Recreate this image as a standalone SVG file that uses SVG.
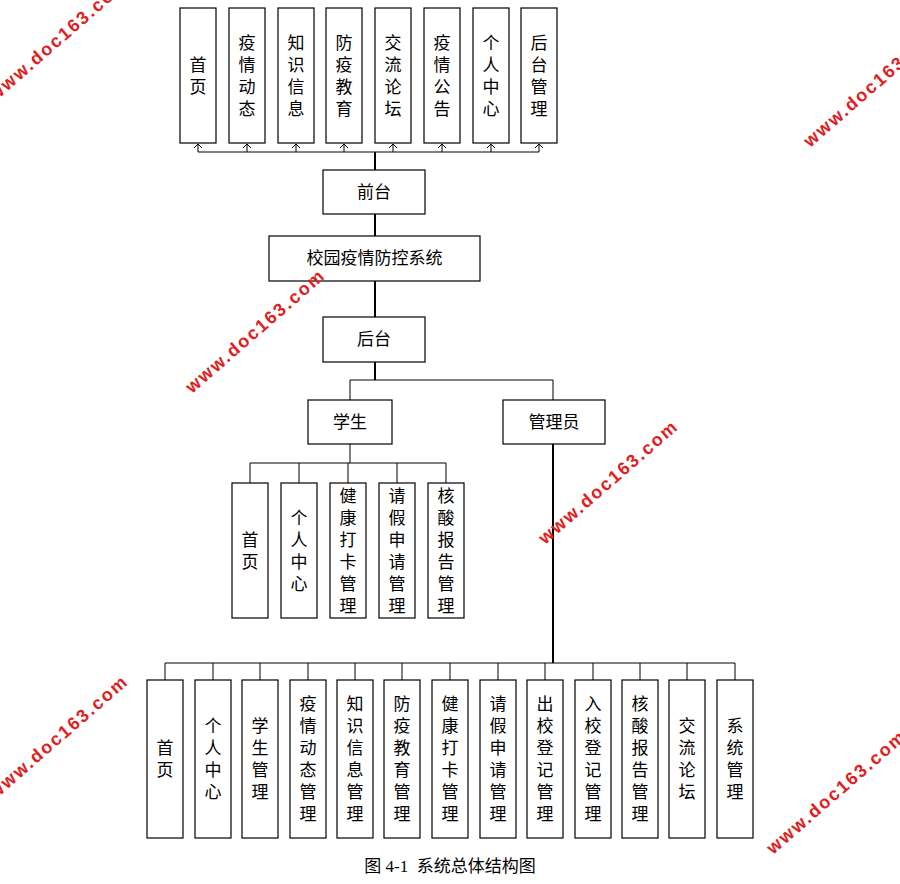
<svg xmlns="http://www.w3.org/2000/svg" width="900" height="884" viewBox="0 0 900 884">
<style>
.b{fill:#fff;stroke:#000;stroke-width:1.2}
.t{font-family:"Noto Sans CJK SC","Liberation Serif",serif;font-size:17px;text-anchor:middle;fill:#000}
.l{fill:none;stroke:#000;stroke-width:1}
.k{fill:none;stroke:#000;stroke-width:2}
.w{font-family:"Liberation Sans",sans-serif;font-size:18px;font-weight:bold;fill:#e02020;letter-spacing:2px}
</style>
<defs><marker id="a" markerWidth="10" markerHeight="10" refX="5" refY="5" orient="auto" markerUnits="userSpaceOnUse"><path d="M1,1 L5,5 L1,9" fill="none" stroke="#000" stroke-width="1"/></marker></defs>
<rect width="900" height="884" fill="#fff"/>
<g id="connectors">
<path class="l" d="M198,152 H539"/>
<path class="k" d="M375,152 V170 M375,214 V236 M375,281 V317 M375,362 V380"/>
<g marker-end="url(#a)">
<path class="l" d="M198,152 V144"/><path class="l" d="M247,152 V144"/><path class="l" d="M296,152 V144"/><path class="l" d="M344,152 V144"/><path class="l" d="M393,152 V144"/><path class="l" d="M442,152 V144"/><path class="l" d="M491,152 V144"/><path class="l" d="M539,152 V144"/>
</g>
<path class="l" d="M350,380 H553 M350,380 V400 M553,380 V400"/>
<path class="l" d="M350,444 V463 M250,463 H446 M250,463 V483 M299,463 V483 M348,463 V483 M397,463 V483 M446,463 V483"/>
<path class="k" d="M553,444 V663"/>
<path class="l" d="M165,663 H735 M165,663 V680 M213,663 V680 M260,663 V680 M308,663 V680 M355,663 V680 M402,663 V680 M450,663 V680 M498,663 V680 M545,663 V680 M593,663 V680 M640,663 V680 M687,663 V680 M735,663 V680"/>
</g>
<g id="top">
<g id="n1"><rect class="b" x="180" y="8" width="36" height="135"/><text class="t" x="198" y="70.5">首<tspan x="198" dy="22">页</tspan></text></g>
<g id="n2"><rect class="b" x="229" y="8" width="36" height="135"/><text class="t" x="247" y="48.5">疫<tspan x="247" dy="22">情</tspan><tspan x="247" dy="22">动</tspan><tspan x="247" dy="22">态</tspan></text></g>
<g id="n3"><rect class="b" x="278" y="8" width="36" height="135"/><text class="t" x="296" y="48.5">知<tspan x="296" dy="22">识</tspan><tspan x="296" dy="22">信</tspan><tspan x="296" dy="22">息</tspan></text></g>
<g id="n4"><rect class="b" x="326" y="8" width="36" height="135"/><text class="t" x="344" y="48.5">防<tspan x="344" dy="22">疫</tspan><tspan x="344" dy="22">教</tspan><tspan x="344" dy="22">育</tspan></text></g>
<g id="n5"><rect class="b" x="375" y="8" width="36" height="135"/><text class="t" x="393" y="48.5">交<tspan x="393" dy="22">流</tspan><tspan x="393" dy="22">论</tspan><tspan x="393" dy="22">坛</tspan></text></g>
<g id="n6"><rect class="b" x="424" y="8" width="36" height="135"/><text class="t" x="442" y="48.5">疫<tspan x="442" dy="22">情</tspan><tspan x="442" dy="22">公</tspan><tspan x="442" dy="22">告</tspan></text></g>
<g id="n7"><rect class="b" x="473" y="8" width="36" height="135"/><text class="t" x="491" y="48.5">个<tspan x="491" dy="22">人</tspan><tspan x="491" dy="22">中</tspan><tspan x="491" dy="22">心</tspan></text></g>
<g id="n8"><rect class="b" x="521" y="8" width="36" height="135"/><text class="t" x="539" y="48.5">后<tspan x="539" dy="22">台</tspan><tspan x="539" dy="22">管</tspan><tspan x="539" dy="22">理</tspan></text></g>
</g>
<g id="qiantai"><rect class="b" x="323" y="170" width="102" height="44"/><text class="t" x="374" y="198">前台</text></g>
<g id="system"><rect class="b" x="269" y="236" width="211" height="45"/><text class="t" x="374.5" y="264">校园疫情防控系统</text></g>
<g id="houtai"><rect class="b" x="323" y="317" width="102" height="45"/><text class="t" x="374" y="345">后台</text></g>
<g id="student"><rect class="b" x="308" y="400" width="84" height="44"/><text class="t" x="350" y="428">学生</text></g>
<g id="admin"><rect class="b" x="503" y="400" width="102" height="44"/><text class="t" x="554" y="428">管理员</text></g>
<g id="students">
<g id="s1"><rect class="b" x="232" y="483" width="36" height="135"/><text class="t" x="250" y="545.5">首<tspan x="250" dy="22">页</tspan></text></g>
<g id="s2"><rect class="b" x="281" y="483" width="36" height="135"/><text class="t" x="299" y="523.5">个<tspan x="299" dy="22">人</tspan><tspan x="299" dy="22">中</tspan><tspan x="299" dy="22">心</tspan></text></g>
<g id="s3"><rect class="b" x="330" y="483" width="36" height="135"/><text class="t" x="348" y="501.5">健<tspan x="348" dy="22">康</tspan><tspan x="348" dy="22">打</tspan><tspan x="348" dy="22">卡</tspan><tspan x="348" dy="22">管</tspan><tspan x="348" dy="22">理</tspan></text></g>
<g id="s4"><rect class="b" x="379" y="483" width="36" height="135"/><text class="t" x="397" y="501.5">请<tspan x="397" dy="22">假</tspan><tspan x="397" dy="22">申</tspan><tspan x="397" dy="22">请</tspan><tspan x="397" dy="22">管</tspan><tspan x="397" dy="22">理</tspan></text></g>
<g id="s5"><rect class="b" x="428" y="483" width="36" height="135"/><text class="t" x="446" y="501.5">核<tspan x="446" dy="22">酸</tspan><tspan x="446" dy="22">报</tspan><tspan x="446" dy="22">告</tspan><tspan x="446" dy="22">管</tspan><tspan x="446" dy="22">理</tspan></text></g>
</g>
<g id="admins">
<g id="a1"><rect class="b" x="147" y="680" width="36" height="158"/><text class="t" x="165" y="754">首<tspan x="165" dy="22">页</tspan></text></g>
<g id="a2"><rect class="b" x="195" y="680" width="36" height="158"/><text class="t" x="213" y="732">个<tspan x="213" dy="22">人</tspan><tspan x="213" dy="22">中</tspan><tspan x="213" dy="22">心</tspan></text></g>
<g id="a3"><rect class="b" x="242" y="680" width="36" height="158"/><text class="t" x="260" y="732">学<tspan x="260" dy="22">生</tspan><tspan x="260" dy="22">管</tspan><tspan x="260" dy="22">理</tspan></text></g>
<g id="a4"><rect class="b" x="290" y="680" width="36" height="158"/><text class="t" x="308" y="710">疫<tspan x="308" dy="22">情</tspan><tspan x="308" dy="22">动</tspan><tspan x="308" dy="22">态</tspan><tspan x="308" dy="22">管</tspan><tspan x="308" dy="22">理</tspan></text></g>
<g id="a5"><rect class="b" x="337" y="680" width="36" height="158"/><text class="t" x="355" y="710">知<tspan x="355" dy="22">识</tspan><tspan x="355" dy="22">信</tspan><tspan x="355" dy="22">息</tspan><tspan x="355" dy="22">管</tspan><tspan x="355" dy="22">理</tspan></text></g>
<g id="a6"><rect class="b" x="384" y="680" width="36" height="158"/><text class="t" x="402" y="710">防<tspan x="402" dy="22">疫</tspan><tspan x="402" dy="22">教</tspan><tspan x="402" dy="22">育</tspan><tspan x="402" dy="22">管</tspan><tspan x="402" dy="22">理</tspan></text></g>
<g id="a7"><rect class="b" x="432" y="680" width="36" height="158"/><text class="t" x="450" y="710">健<tspan x="450" dy="22">康</tspan><tspan x="450" dy="22">打</tspan><tspan x="450" dy="22">卡</tspan><tspan x="450" dy="22">管</tspan><tspan x="450" dy="22">理</tspan></text></g>
<g id="a8"><rect class="b" x="480" y="680" width="36" height="158"/><text class="t" x="498" y="710">请<tspan x="498" dy="22">假</tspan><tspan x="498" dy="22">申</tspan><tspan x="498" dy="22">请</tspan><tspan x="498" dy="22">管</tspan><tspan x="498" dy="22">理</tspan></text></g>
<g id="a9"><rect class="b" x="527" y="680" width="36" height="158"/><text class="t" x="545" y="710">出<tspan x="545" dy="22">校</tspan><tspan x="545" dy="22">登</tspan><tspan x="545" dy="22">记</tspan><tspan x="545" dy="22">管</tspan><tspan x="545" dy="22">理</tspan></text></g>
<g id="a10"><rect class="b" x="575" y="680" width="36" height="158"/><text class="t" x="593" y="710">入<tspan x="593" dy="22">校</tspan><tspan x="593" dy="22">登</tspan><tspan x="593" dy="22">记</tspan><tspan x="593" dy="22">管</tspan><tspan x="593" dy="22">理</tspan></text></g>
<g id="a11"><rect class="b" x="622" y="680" width="36" height="158"/><text class="t" x="640" y="710">核<tspan x="640" dy="22">酸</tspan><tspan x="640" dy="22">报</tspan><tspan x="640" dy="22">告</tspan><tspan x="640" dy="22">管</tspan><tspan x="640" dy="22">理</tspan></text></g>
<g id="a12"><rect class="b" x="669" y="680" width="36" height="158"/><text class="t" x="687" y="732">交<tspan x="687" dy="22">流</tspan><tspan x="687" dy="22">论</tspan><tspan x="687" dy="22">坛</tspan></text></g>
<g id="a13"><rect class="b" x="717" y="680" width="36" height="158"/><text class="t" x="735" y="732">系<tspan x="735" dy="22">统</tspan><tspan x="735" dy="22">管</tspan><tspan x="735" dy="22">理</tspan></text></g>
</g>
<text class="t" x="450" y="872" style="font-family:'Liberation Serif','Noto Sans CJK SC',serif">图 4-1&#160; 系统总体结构图</text>
<g id="watermarks">
<text class="w" transform="translate(-5,102) rotate(-41)">www.doc163.com</text>
<text class="w" transform="translate(810,148) rotate(-41)">www.doc163.com</text>
<text class="w" transform="translate(192,394) rotate(-41)">www.doc163.com</text>
<text class="w" transform="translate(545,545) rotate(-41)">www.doc163.com</text>
<text class="w" transform="translate(-5,800) rotate(-41)">www.doc163.com</text>
<text class="w" transform="translate(773,855) rotate(-41)">www.doc163.com</text>
</g>
</svg>
